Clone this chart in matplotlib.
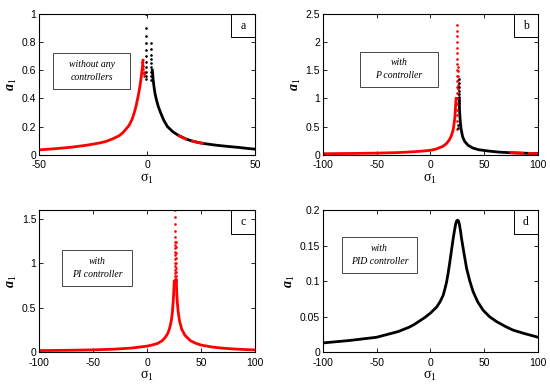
import matplotlib
matplotlib.use("Agg")
import matplotlib.pyplot as plt
from matplotlib.patches import Rectangle
from matplotlib.ticker import FormatStrFormatter

plt.rcParams['font.family'] = 'Liberation Sans'
plt.rcParams['mathtext.fontset'] = 'custom'
plt.rcParams['mathtext.rm'] = 'Liberation Serif'
plt.rcParams['mathtext.it'] = 'Liberation Serif:italic'
plt.rcParams['mathtext.bfit'] = 'Liberation Serif:italic:bold'

# ---- panel a : without any controllers ----
a_left_x = [-50, -42, -35, -28, -22, -19, -16, -13, -11.4, -10, -8.3, -7, -6, -5.2, -4.5, -3.9, -3.4, -2.9, -2.5, -2.1, -1.9]
a_left_y = [0.035, 0.044, 0.054, 0.068, 0.084, 0.095, 0.113, 0.135, 0.154, 0.178, 0.21, 0.25, 0.296, 0.34, 0.39, 0.435, 0.48, 0.53, 0.58, 0.63, 0.67]
a_right_x = [2.4, 2.8, 3.2, 3.7, 4.3, 5.2, 6.3, 7.7, 9.4, 12, 14.8, 18, 21, 24, 27.2, 32, 37, 42.6, 46, 50]
a_right_y = [0.6, 0.53, 0.48, 0.43, 0.39, 0.34, 0.296, 0.245, 0.2, 0.162, 0.135, 0.112, 0.097, 0.086, 0.078, 0.068, 0.06, 0.052, 0.046, 0.04]
a_red_seg1_x = [14.8, 16.3, 17.9]
a_red_seg1_y = [0.135, 0.123, 0.112]
a_red_seg2_x = [21, 23.3, 25.6]
a_red_seg2_y = [0.097, 0.088, 0.082]
a_red_dots_x = [-2.2, -2.0, -1.8, -1.6, -1.5, -1.4, -1.3]
a_red_dots_y = [0.66, 0.63, 0.61, 0.59, 0.58, 0.57, 0.56]
a_blk_dots_x = [-0.4] * 11 + [1.9] * 9
a_blk_dots_y = [1.0, 0.9, 0.84, 0.79, 0.74, 0.7, 0.66, 0.62, 0.59, 0.56, 0.54,
                0.79, 0.75, 0.71, 0.68, 0.65, 0.62, 0.59, 0.56, 0.53]

# ---- panel b : with P controller ----
b_left_x = [-100, -75, -50.4, -30, -15, -0.8, 5, 11.6, 15, 17.8, 19.5, 20.9, 21.8, 22.5, 23, 23.4, 24]
b_left_y = [0.02, 0.024, 0.03, 0.04, 0.055, 0.078, 0.1, 0.15, 0.2, 0.27, 0.34, 0.42, 0.51, 0.62, 0.72, 0.86, 1.0]
b_right_x = [26.8, 27.1, 27.6, 28.1, 28.7, 30, 31.8, 35, 39.5, 45, 55, 64, 73.6, 85, 100]
b_right_y = [1.0, 0.8, 0.65, 0.53, 0.44, 0.32, 0.24, 0.17, 0.12, 0.09, 0.065, 0.048, 0.038, 0.03, 0.022]
b_red_seg1_x = [75, 80, 86]
b_red_seg1_y = [0.037, 0.033, 0.029]
b_red_seg2_x = [92, 96, 100]
b_red_seg2_y = [0.026, 0.024, 0.022]
b_red_dots_x = [24.8] * 19 + [25.9] * 9
b_red_dots_y = [2.3, 2.2, 2.1, 2.0, 1.9, 1.8, 1.7, 1.6, 1.5, 1.4, 1.3, 1.2, 1.1, 1.0, 0.9, 0.8, 0.7, 0.6, 0.45,
                1.55, 1.48, 1.4, 1.32, 1.24, 1.16, 1.08, 1.0, 0.92]
b_blk_dots_x = [26.8] * 8 + [25.6, 26.0]
b_blk_dots_y = [1.35, 1.27, 1.2, 1.13, 1.07, 1.02, 0.97, 0.92, 0.47, 0.52]

# ---- panel c : with PI controller ----
c_left_x = [-100, -75, -50, -30, -15, 0, 5, 10, 14, 17, 19.5, 21, 22.3, 23.3, 24, 24.6, 25.1]
c_left_y = [0.018, 0.021, 0.026, 0.034, 0.046, 0.068, 0.082, 0.1, 0.13, 0.17, 0.22, 0.28, 0.35, 0.44, 0.55, 0.67, 0.8]
c_right_x = [27, 27.5, 28, 28.8, 30, 32, 35, 40, 45, 50, 60, 70, 80, 90, 100]
c_right_y = [0.8, 0.65, 0.55, 0.45, 0.35, 0.26, 0.19, 0.13, 0.1, 0.08, 0.058, 0.045, 0.036, 0.03, 0.025]
c_dots_x = [25.9] * 18 + [26.6] * 10
c_dots_y = [1.6, 1.52, 1.44, 1.37, 1.3, 1.24, 1.21, 1.17, 1.13, 1.09, 1.05, 1.01, 0.97, 0.93, 0.89, 0.86, 0.83, 0.8,
            1.24, 1.18, 1.12, 1.06, 1.0, 0.95, 0.9, 0.86, 0.83, 0.8]

# ---- panel d : with PID controller ----
d_x = [-100, -75, -50, -40, -30, -20, -15, -10, -5, 0, 5.8, 9, 11.9, 13.5, 15.1, 16.6, 18.1, 19.7, 21.2, 22.5, 23.6,
       24.5, 25.3, 26.1, 27, 28, 29, 31.3, 33.7, 36.7, 39.8, 44, 49.1, 55, 61.6, 70, 77, 88, 98.8, 100]
d_y = [0.013, 0.0165, 0.021, 0.025, 0.029, 0.035, 0.039, 0.044, 0.049, 0.055, 0.0635, 0.071, 0.08, 0.089, 0.099, 0.112, 0.127, 0.144, 0.16, 0.172, 0.181,
       0.185, 0.186, 0.185, 0.18, 0.171, 0.16, 0.139, 0.118, 0.1, 0.085, 0.071, 0.059, 0.05, 0.043, 0.036, 0.031, 0.026, 0.0216, 0.021]

fig = plt.figure(figsize=(5.5, 3.9), dpi=100)


def style_axes(ax, xlim, ylim, xticks, yticks):
    ax.set_xlim(xlim)
    ax.set_ylim(ylim)
    ax.set_xticks(xticks)
    ax.set_yticks(yticks)
    ax.xaxis.set_major_formatter(FormatStrFormatter('%g'))
    ax.yaxis.set_major_formatter(FormatStrFormatter('%g'))
    ax.tick_params(direction='in', top=True, right=True, length=3, width=0.6, labelsize=7.5)
    ax.tick_params(axis='x', pad=4)
    ax.tick_params(axis='y', pad=2)
    for s in ax.spines.values():
        s.set_linewidth(0.8)
    ax.set_xlabel(r'$\mathrm{\sigma}_\mathrm{1}$', fontsize=10, labelpad=1)
    ax.set_ylabel(r'$\mathbfit{a}_\mathit{1}$', fontsize=10, labelpad=2)


def add_boxes(ax, letter, text, box):
    x0, x1, y0, y1 = box
    ax.add_patch(Rectangle((x0, y0), x1 - x0, y1 - y0, transform=ax.transAxes,
                           fill=False, lw=0.7, ec='#444444', zorder=5))
    ax.text((x0 + x1) / 2, (y0 + y1) / 2, text, transform=ax.transAxes, ha='center', va='center',
            fontsize=7, style='italic', family='Liberation Serif', linespacing=1.6, zorder=5)
    ax.add_patch(Rectangle((0.887, 0.835), 0.113, 0.165, transform=ax.transAxes,
                           fill=False, lw=0.7, ec='black', zorder=5))
    ax.text(0.943, 0.915, letter, transform=ax.transAxes, ha='center', va='center',
            fontsize=8.5, family='Liberation Serif', zorder=5)


ax_a = fig.add_axes([0.071, 0.603, 0.393, 0.362])
ax_a.plot(a_left_x, a_left_y, color='red', lw=2)
ax_a.plot(a_right_x, a_right_y, color='black', lw=2)
ax_a.plot(a_red_seg1_x, a_red_seg1_y, color='red', lw=2)
ax_a.plot(a_red_seg2_x, a_red_seg2_y, color='red', lw=2)
ax_a.plot(a_red_dots_x, a_red_dots_y, '.', color='red', ms=1.8)
ax_a.plot(a_blk_dots_x, a_blk_dots_y, '.', color='black', ms=1.8)
style_axes(ax_a, (-50, 50), (0, 1), [-50, 0, 50], [0, 0.2, 0.4, 0.6, 0.8, 1])
add_boxes(ax_a, 'a', 'without any\ncontrollers', (0.065, 0.421, 0.468, 0.723))

ax_b = fig.add_axes([0.587, 0.603, 0.391, 0.362])
ax_b.plot(b_left_x, b_left_y, color='red', lw=2)
ax_b.plot(b_right_x, b_right_y, color='black', lw=2)
ax_b.plot(b_red_seg1_x, b_red_seg1_y, color='red', lw=2)
ax_b.plot(b_red_seg2_x, b_red_seg2_y, color='red', lw=2)
ax_b.plot(b_red_dots_x, b_red_dots_y, '.', color='red', ms=1.8)
ax_b.plot(b_blk_dots_x, b_blk_dots_y, '.', color='black', ms=1.8)
style_axes(ax_b, (-100, 100), (0, 2.5), [-100, -50, 0, 50, 100], [0, 0.5, 1, 1.5, 2, 2.5])
add_boxes(ax_b, 'b', 'with\nP controller', (0.172, 0.535, 0.482, 0.73))

ax_c = fig.add_axes([0.071, 0.097, 0.393, 0.364])
ax_c.plot(c_left_x, c_left_y, color='red', lw=2)
ax_c.plot(c_right_x, c_right_y, color='red', lw=2)
ax_c.plot(c_dots_x, c_dots_y, '.', color='red', ms=1.8)
style_axes(ax_c, (-100, 100), (0, 1.6), [-100, -50, 0, 50, 100], [0, 0.5, 1, 1.5])
add_boxes(ax_c, 'c', 'with\nPI controller', (0.106, 0.431, 0.465, 0.718))

ax_d = fig.add_axes([0.587, 0.097, 0.391, 0.364])
ax_d.plot(d_x, d_y, color='black', lw=2)
style_axes(ax_d, (-100, 100), (0, 0.2), [-100, -50, 0, 50, 100], [0, 0.05, 0.1, 0.15, 0.2])
add_boxes(ax_d, 'd', 'with\nPID controller', (0.088, 0.437, 0.556, 0.81))

fig.savefig('out.png', dpi=100)
